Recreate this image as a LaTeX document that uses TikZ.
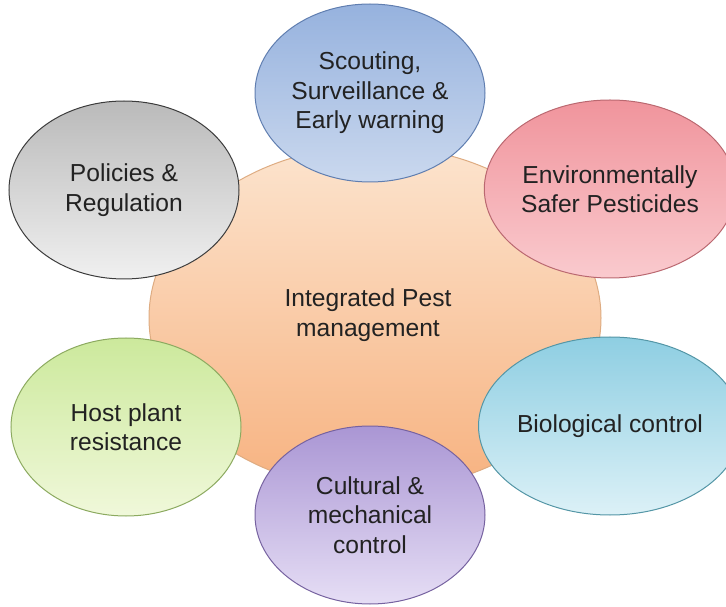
\documentclass[tikz,border=0pt]{standalone}
\usepackage{fontspec}
\setmainfont{Liberation Sans}
\usetikzlibrary{shapes.geometric}

\definecolor{ipmtop}{RGB}{252,228,206}
\definecolor{ipmbot}{RGB}{247,178,128}
\definecolor{ipmline}{RGB}{222,172,130}
\definecolor{scouttop}{RGB}{150,178,222}
\definecolor{scoutbot}{RGB}{202,216,238}
\definecolor{scoutline}{RGB}{96,126,176}
\definecolor{pesttop}{RGB}{240,148,156}
\definecolor{pestbot}{RGB}{250,202,206}
\definecolor{pestline}{RGB}{186,104,112}
\definecolor{biotop}{RGB}{142,206,226}
\definecolor{biobot}{RGB}{220,241,247}
\definecolor{bioline}{RGB}{84,150,166}
\definecolor{culttop}{RGB}{170,150,212}
\definecolor{cultbot}{RGB}{230,222,245}
\definecolor{cultline}{RGB}{118,98,160}
\definecolor{hosttop}{RGB}{204,233,156}
\definecolor{hostbot}{RGB}{240,248,218}
\definecolor{hostline}{RGB}{140,170,96}
\definecolor{policytop}{RGB}{186,186,186}
\definecolor{policybot}{RGB}{240,240,240}
\definecolor{policyline}{RGB}{60,60,60}
\definecolor{labeltext}{RGB}{34,34,34}

\tikzset{
  blob/.style={ellipse, draw, line width=1pt, inner sep=0pt, align=center,
    text=labeltext, font=\fontsize{24.6}{29.5}\selectfont},
  sat/.style={blob, minimum width=230pt, minimum height=178pt},
  tint/.style={draw=#1line, top color=#1top, bottom color=#1bot}
}

\begin{document}
\begin{tikzpicture}[x=1pt, y=1pt]
            \useasboundingbox (0,0) rectangle (726,606);

            \node[blob, tint=ipm, minimum width=452pt, minimum height=344pt] (ipm) at (375,288) {};
            \node[font=\fontsize{24.6}{29.5}\selectfont, text=labeltext, align=center] (ipmtext) at (368,291) {Integrated Pest\\management};

            \node[sat, tint=scout]  (scout)  at (370,513) {Scouting,\\Surveillance \&\\Early warning};
            \node[sat, tint=pest]   (pest)   at (610,417) {Environmentally\\Safer Pesticides};
            \node[sat, tint=bio]    (bio)    at (610,180) {Biological control};
            \node[sat, tint=cult]   (cult)   at (370,91)  {Cultural \&\\mechanical\\control};
            \node[sat, tint=host]   (host)   at (126,179) {Host plant\\resistance};
            \node[sat, tint=policy] (policy) at (124,416) {Policies \&\\Regulation};
        \end{tikzpicture}
\end{document}
